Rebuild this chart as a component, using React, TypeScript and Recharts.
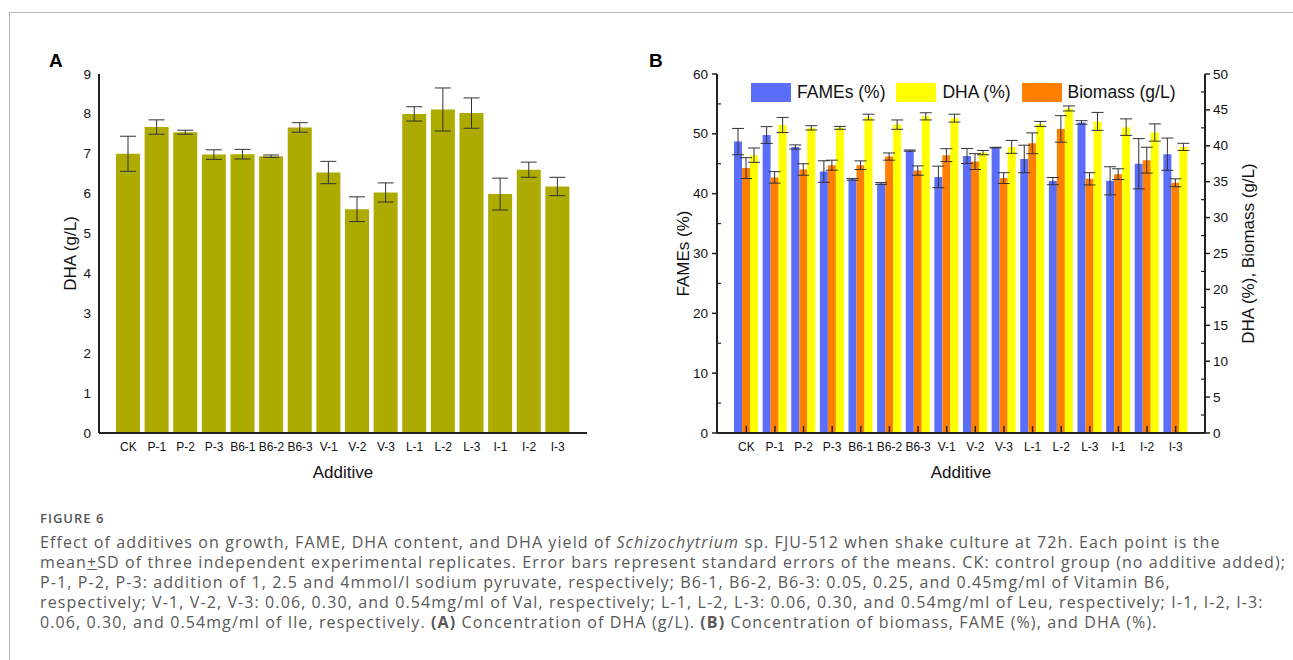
import React from 'react';
import { BarChart, Bar, XAxis, YAxis, ErrorBar, Legend, Label } from 'recharts';

// additive groups (x axis of both panels)
const CATEGORIES = ['CK', 'P-1', 'P-2', 'P-3', 'B6-1', 'B6-2', 'B6-3', 'V-1', 'V-2', 'V-3', 'L-1', 'L-2', 'L-3', 'I-1', 'I-2', 'I-3'];

// panel A: DHA yield (g/L)
const DHA_YIELD = [7.0, 7.67, 7.54, 6.98, 6.99, 6.94, 7.66, 6.53, 5.61, 6.03, 8.0, 8.11, 8.02, 5.99, 6.6, 6.18];
const DHA_YIELD_ERR = [0.44, 0.18, 0.05, 0.12, 0.12, 0.03, 0.12, 0.28, 0.31, 0.24, 0.18, 0.54, 0.38, 0.4, 0.19, 0.23];

// panel B: FAMEs (%) on left axis, biomass (g/L) and DHA (%) on right axis
const FAMES = [48.7, 49.8, 47.8, 43.7, 42.4, 41.7, 47.2, 42.8, 46.3, 47.7, 45.8, 42.1, 51.9, 42.15, 45.0, 46.6];
const FAMES_ERR = [2.2, 1.4, 0.35, 1.8, 0.15, 0.15, 0.1, 1.8, 1.25, 0.05, 2.3, 0.6, 0.3, 2.35, 4.2, 2.7];
const BIOMASS = [36.9, 35.6, 36.7, 37.3, 37.3, 38.5, 36.55, 38.7, 37.8, 35.5, 40.35, 42.35, 35.4, 36.05, 38.0, 34.85];
const BIOMASS_ERR = [1.45, 0.8, 0.8, 0.7, 0.6, 0.5, 0.65, 0.9, 1.1, 0.75, 1.45, 1.85, 0.85, 0.75, 1.8, 0.55];
const DHA_PCT = [38.7, 42.9, 42.5, 42.5, 44.0, 42.95, 44.1, 43.85, 39.05, 39.85, 43.05, 45.2, 43.4, 42.6, 41.85, 39.85];
const DHA_PCT_ERR = [1.0, 1.05, 0.3, 0.2, 0.4, 0.65, 0.5, 0.55, 0.3, 0.9, 0.35, 0.35, 1.25, 1.15, 1.2, 0.5];

const TICKS_A = [0, 1, 2, 3, 4, 5, 6, 7, 8, 9];
const TICKS_B_LEFT = [0, 5, 10, 15, 20, 25, 30, 35, 40, 45, 50, 55, 60];
const TICKS_B_RIGHT = [0, 2.5, 5, 7.5, 10, 12.5, 15, 17.5, 20, 22.5, 25, 27.5, 30, 32.5, 35, 37.5, 40, 42.5, 45, 47.5, 50];

const FONT = '"Liberation Sans", Arial, Helvetica, sans-serif';
const OLIVE = '#ADAB00';
const BLUE = '#5B6EF9';
const ORANGE = '#FF8000';
const YELLOW = '#FFFF00';
const AXIS = '#222';

const LEGEND_B = [
  { name: 'FAMEs (%)', color: BLUE },
  { name: 'DHA (%)', color: YELLOW },
  { name: 'Biomass (g/L)', color: ORANGE },
];

const yieldData = CATEGORIES.map((c, i) => ({ name: c, dha: DHA_YIELD[i], err: DHA_YIELD_ERR[i] }));
const compData = CATEGORIES.map((c, i) => ({
  name: c,
  fames: FAMES[i],
  famesErr: FAMES_ERR[i],
  biomass: BIOMASS[i],
  biomassErr: BIOMASS_ERR[i],
  dhaPct: DHA_PCT[i],
  dhaPctErr: DHA_PCT_ERR[i],
}));

const textStyle = { fontFamily: FONT, fill: '#111' };

const LeftTickA = ({ x, y, payload }: any) => (
  <text x={x - 8} y={y} dy={4.5} textAnchor="end" fontSize={13.5} style={textStyle}>{payload.value}</text>
);

const BottomTickA = ({ x, y, payload }: any) => (
  <text x={x} y={y + 18} textAnchor="middle" fontSize={12} style={textStyle}>{payload.value}</text>
);

const BottomTickB = ({ x, y, payload }: any) => (
  <g>
    <line x1={x} y1={y} x2={x} y2={y - 7} stroke={AXIS} strokeWidth={1.5} />
    <text x={x} y={y + 18} textAnchor="middle" fontSize={12} style={textStyle}>{payload.value}</text>
  </g>
);

const LeftTickB = ({ x, y, payload }: any) => {
  const major = payload.value % 10 === 0;
  return (
    <g>
      {major
        ? <line x1={x - 5} y1={y} x2={x} y2={y} stroke={AXIS} strokeWidth={1.5} />
        : <line x1={x} y1={y} x2={x + 4} y2={y} stroke={AXIS} strokeWidth={1.2} />}
      {major && <text x={x - 9} y={y} dy={4.5} textAnchor="end" fontSize={13.5} style={textStyle}>{payload.value}</text>}
    </g>
  );
};

const RightTickB = ({ x, y, payload }: any) => {
  const major = payload.value % 5 === 0;
  return (
    <g>
      {major
        ? <line x1={x} y1={y} x2={x + 5} y2={y} stroke={AXIS} strokeWidth={1.5} />
        : <line x1={x - 4} y1={y} x2={x} y2={y} stroke={AXIS} strokeWidth={1.2} />}
      {major && <text x={x + 8} y={y} dy={4.5} textAnchor="start" fontSize={13.5} style={textStyle}>{payload.value}</text>}
    </g>
  );
};

const yTitle = (text: string, dx: number, angle: number) => ({ viewBox }: any) => {
  const cx = viewBox.x + dx;
  const cy = viewBox.y + viewBox.height / 2;
  return (
    <text x={cx} y={cy} transform={`rotate(${angle} ${cx} ${cy})`} textAnchor="middle" dominantBaseline="central" fontSize={17} style={textStyle}>
      {text}
    </text>
  );
};

const xTitle = ({ viewBox }: any) => (
  <text x={viewBox.x + viewBox.width / 2} y={viewBox.y + 45} textAnchor="middle" fontSize={17} style={textStyle}>Additive</text>
);

const LegendB = () => (
  <div style={{ display: 'flex', alignItems: 'center', fontFamily: FONT, fontSize: 17.5, color: '#111', whiteSpace: 'nowrap' }}>
    {LEGEND_B.map((item, i) => (
      <div key={item.name} style={{ display: 'flex', alignItems: 'center', marginRight: i < LEGEND_B.length - 1 ? 11 : 0 }}>
        <span style={{ display: 'inline-block', width: 40, height: 19, background: item.color, marginRight: 6 }} />
        <span>{item.name}</span>
      </div>
    ))}
  </div>
);

const ChartA = () => (
  <BarChart width={600} height={500} data={yieldData} margin={{ top: 74, right: 13, bottom: 37, left: 59 }}>
    <XAxis dataKey="name" interval={0} padding={{ left: 15, right: 15 }} axisLine={{ stroke: AXIS, strokeWidth: 2 }}
      tickLine={false} tickSize={0} tickMargin={0} tick={<BottomTickA />} height={30}>
      <Label content={xTitle} />
    </XAxis>
    <XAxis xAxisId="top" dataKey="name" orientation="top" height={0} tick={false} tickLine={false}
      padding={{ left: 15, right: 15 }} axisLine={{ stroke: AXIS, strokeWidth: 2 }} />
    <YAxis domain={[0, 9]} ticks={TICKS_A} width={40} axisLine={{ stroke: AXIS, strokeWidth: 2 }}
      tickLine={false} tickSize={0} tickMargin={0} tick={<LeftTickA />}>
      <Label content={yTitle('DHA (g/L)', 11, -90)} />
    </YAxis>
    <YAxis yAxisId="r" orientation="right" domain={[0, 9]} width={0} tick={false} tickLine={false}
      axisLine={{ stroke: AXIS, strokeWidth: 2 }} />
    <Bar dataKey="dha" fill={OLIVE} barSize={24} isAnimationActive={false}>
      <ErrorBar dataKey="err" width={8} stroke="#333" strokeWidth={1} />
    </Bar>
  </BarChart>
);

const ChartB = () => (
  <BarChart width={660} height={500} data={compData} barGap={0} margin={{ top: 74, right: 25, bottom: 37, left: 47 }}>
    <XAxis dataKey="name" interval={0} padding={{ left: 15, right: 15 }} axisLine={{ stroke: AXIS, strokeWidth: 2 }}
      tickLine={false} tickSize={0} tickMargin={0} tick={<BottomTickB />} height={30}>
      <Label content={xTitle} />
    </XAxis>
    <XAxis xAxisId="top" dataKey="name" orientation="top" height={0} tick={false} tickLine={false}
      padding={{ left: 15, right: 15 }} axisLine={{ stroke: AXIS, strokeWidth: 2 }} />
    <YAxis yAxisId="left" domain={[0, 60]} ticks={TICKS_B_LEFT} width={50} axisLine={{ stroke: AXIS, strokeWidth: 2 }}
      tickLine={false} tickSize={0} tickMargin={0} tick={<LeftTickB />} interval={0}>
      <Label content={yTitle('FAMEs (%)', 16, -90)} />
    </YAxis>
    <YAxis yAxisId="right" orientation="right" domain={[0, 50]} ticks={TICKS_B_RIGHT} width={50}
      axisLine={{ stroke: AXIS, strokeWidth: 2 }} tickLine={false} tickSize={0} tickMargin={0} tick={<RightTickB />} interval={0}>
      <Label content={yTitle('DHA (%), Biomass (g/L)', 43, -90)} />
    </YAxis>
    <Legend layout="vertical" align="center" verticalAlign="middle" content={<LegendB />}
      wrapperStyle={{ left: 131, top: 82, width: 'auto' }} />
    <Bar yAxisId="left" dataKey="fames" name="FAMEs (%)" fill={BLUE} barSize={8} isAnimationActive={false}>
      <ErrorBar dataKey="famesErr" width={6} stroke="#333" strokeWidth={1} />
    </Bar>
    <Bar yAxisId="right" dataKey="biomass" name="Biomass (g/L)" fill={ORANGE} barSize={8} isAnimationActive={false}>
      <ErrorBar dataKey="biomassErr" width={6} stroke="#333" strokeWidth={1} />
    </Bar>
    <Bar yAxisId="right" dataKey="dhaPct" name="DHA (%)" fill={YELLOW} barSize={8} isAnimationActive={false}>
      <ErrorBar dataKey="dhaPctErr" width={6} stroke="#333" strokeWidth={1} />
    </Bar>
  </BarChart>
);

const captionStyle: React.CSSProperties = {
  fontFamily: '"Open Sans", Lato, sans-serif',
  fontSize: 16,
  lineHeight: '20px',
  letterSpacing: 1.1,
  color: '#595959',
  whiteSpace: 'nowrap',
};

export default function App() {
  return (
    <div style={{ position: 'absolute', left: 0, top: 0, width: 1293, height: 660, background: '#fff', overflow: 'hidden' }}>
      <div style={{ position: 'absolute', left: 9, top: 12, right: -2, bottom: -2, borderTop: '1.5px solid #b8b8b8', borderLeft: '1.5px solid #b8b8b8' }} />
      <div style={{ position: 'absolute', left: 0, top: 0 }}><ChartA /></div>
      <div style={{ position: 'absolute', left: 620, top: 0 }}><ChartB /></div>
      <div style={{ position: 'absolute', left: 49, top: 50, fontFamily: FONT, fontWeight: 700, fontSize: 19 }}>A</div>
      <div style={{ position: 'absolute', left: 649, top: 50, fontFamily: FONT, fontWeight: 700, fontSize: 19 }}>B</div>
      <div style={{ position: 'absolute', left: 40, top: 509, fontFamily: '"Open Sans", sans-serif', fontSize: 13, fontWeight: 600, color: '#555', letterSpacing: 1 }}>FIGURE 6</div>
      <div style={{ position: 'absolute', left: 40, top: 532, ...captionStyle }}>
        <div>Effect of additives on growth, FAME, DHA content, and DHA yield of <i>Schizochytrium</i> sp. FJU-512 when shake culture at 72h. Each point is the</div>
        <div>mean<span style={{ textDecoration: 'underline' }}>+</span>SD of three independent experimental replicates. Error bars represent standard errors of the means. CK: control group (no additive added);</div>
        <div>P-1, P-2, P-3: addition of 1, 2.5 and 4mmol/l sodium pyruvate, respectively; B6-1, B6-2, B6-3: 0.05, 0.25, and 0.45mg/ml of Vitamin B6,</div>
        <div>respectively; V-1, V-2, V-3: 0.06, 0.30, and 0.54mg/ml of Val, respectively; L-1, L-2, L-3: 0.06, 0.30, and 0.54mg/ml of Leu, respectively; I-1, I-2, I-3:</div>
        <div>0.06, 0.30, and 0.54mg/ml of Ile, respectively. <b>(A)</b> Concentration of DHA (g/L). <b>(B)</b> Concentration of biomass, FAME (%), and DHA (%).</div>
      </div>
    </div>
  );
}
